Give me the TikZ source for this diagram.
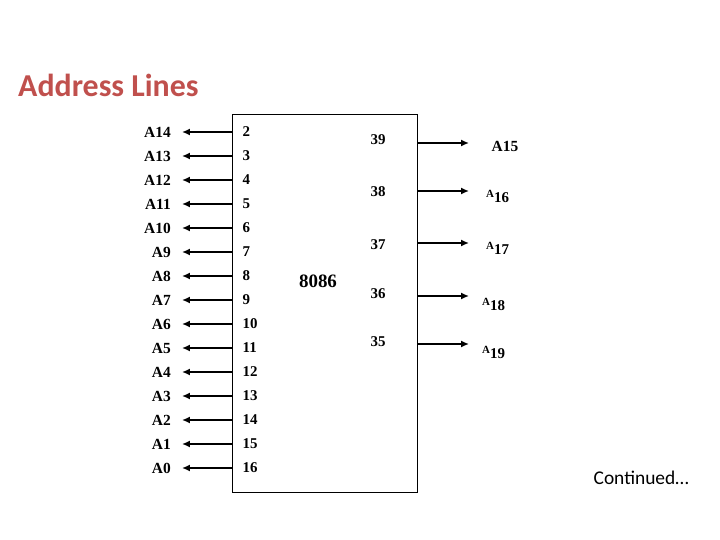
\documentclass[tikz,border=0pt]{standalone}
\usepackage{fontspec}
\setmainfont{Liberation Serif}
\newfontfamily\titlefont{Carlito}
\usepackage{xcolor}
\definecolor{titlered}{RGB}{192, 80, 77}
\usepackage{tikz}
\usetikzlibrary{arrows.meta,positioning}

\tikzset{
    wire/.style={line width=1.5pt, -{Latex[length=8pt,width=7pt]}},
    pinnum/.style={font=\bfseries\fontsize{15}{15}\selectfont, inner sep=0pt},
    signame/.style={font=\bfseries\fontsize{15.5}{15.5}\selectfont, inner sep=0pt},
    hisig/.style={font=\bfseries, inner sep=0pt}
}

\newcommand{\hiaddr}[1]{{\fontsize{11}{11}\selectfont A}\raisebox{-5pt}{\fontsize{15}{15}\selectfont #1}}

\begin{document}
\begin{tikzpicture}[x=1bp, y=-1bp]
    \useasboundingbox (0,0) rectangle (720,540);

    % Title
    \node[anchor=west, text=titlered, font=\titlefont\bfseries\fontsize{32}{32}\selectfont, inner sep=0pt] (title) at (18,85) {Address Lines};

    % Chip body
    \node[draw, line width=0.8pt, minimum width=185bp, minimum height=378bp, inner sep=0pt] (chip) at (324.5,303) {};
    \node[font=\bfseries\fontsize{19}{19}\selectfont, inner sep=0pt] (name) at (318,281) {8086};

    % Left side: pins 2..16 carry A14..A0
    \foreach \i in {0,...,14} {
        \pgfmathtruncatemacro{\pin}{\i+2}
        \pgfmathtruncatemacro{\addr}{14-\i}
        \coordinate (lp\pin) at (232,132+24*\i);
        \coordinate (lt\pin) at (182,132+24*\i);
        \node[pinnum, anchor=west] (pn\pin) at (242.5,132+24*\i) {\pin};
        \node[signame, anchor=east] (a\addr) at (171,132+24*\i) {A\addr};
        \draw[wire] (lp\pin) -- (lt\pin);
    }

    % Right side: pins 39..35 carry A15..A19
    \foreach \pin/\py/\ny in {39/143/140, 38/191/192, 37/243/245, 36/296/294, 35/344/342} {
        \coordinate (rp\pin) at (417,\py);
        \coordinate (rt\pin) at (469,\py);
        \node[pinnum] (pn\pin) at (378,\ny) {\pin};
        \draw[wire] (rp\pin) -- (rt\pin);
    }

    \node[signame] (a15) at (505,146) {A15};
    \node[hisig, anchor=west] (a16) at (486,196) {\hiaddr{16}};
    \node[hisig, anchor=west] (a17) at (486,248) {\hiaddr{17}};
    \node[hisig, anchor=west] (a18) at (482,304) {\hiaddr{18}};
    \node[hisig, anchor=west] (a19) at (482,352) {\hiaddr{19}};

    % Footer
    \node[anchor=east, font=\titlefont\fontsize{19.5}{19.5}\selectfont, inner sep=0pt] (cont) at (689,478) {Continued\dots};
\end{tikzpicture}
\end{document}
